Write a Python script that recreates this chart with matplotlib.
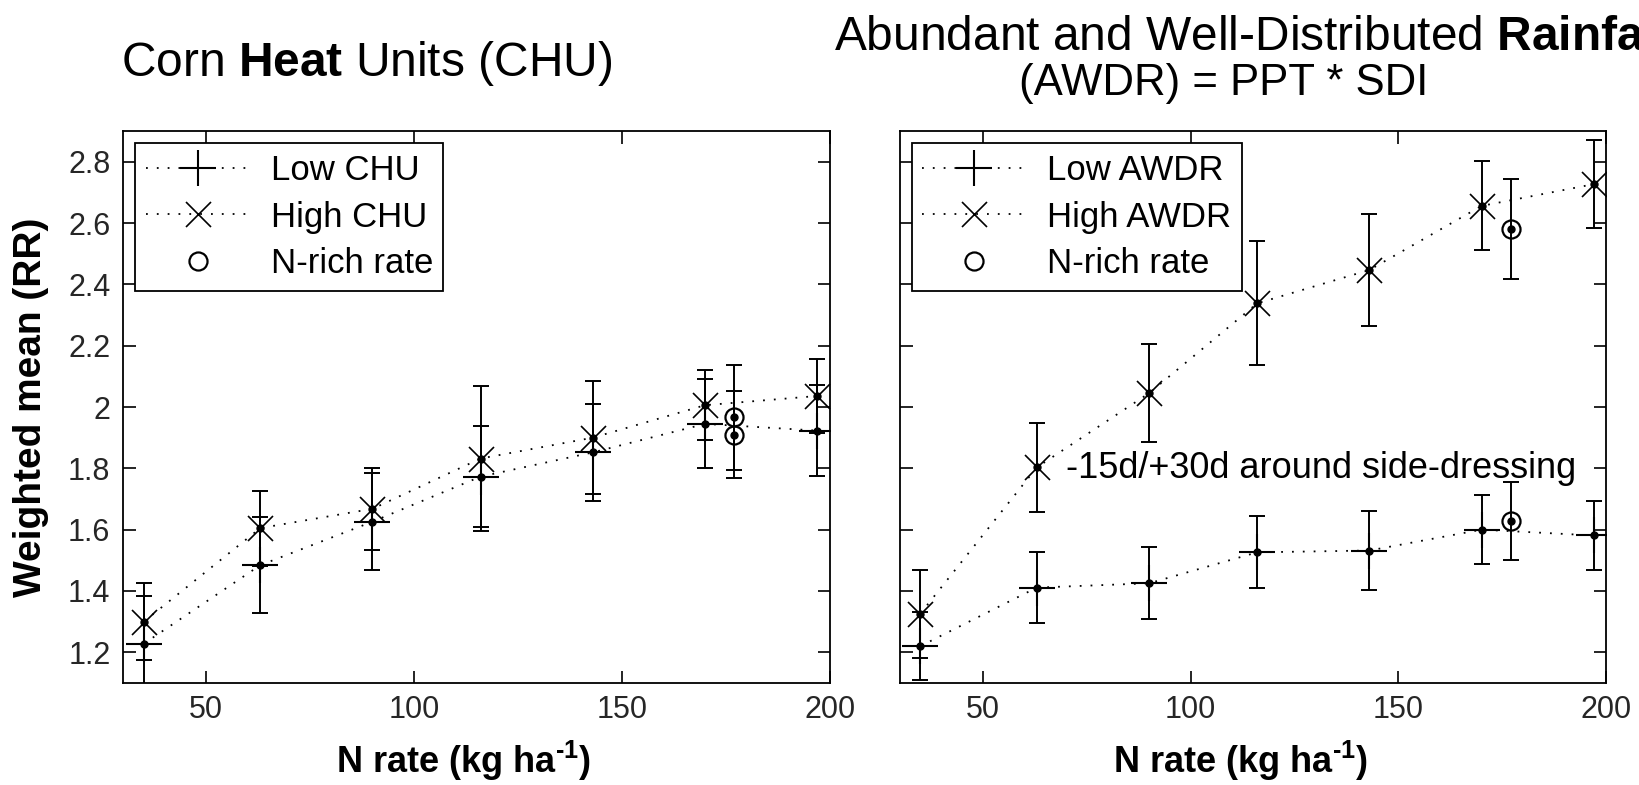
import numpy as np
import matplotlib
matplotlib.use("Agg")
import matplotlib.pyplot as plt
from matplotlib.ticker import FuncFormatter

###
# Data
###

# N rates shared by all treatment series
n_rate = [35, 63, 90, 116, 143, 170, 197]
n_rich_rate = 177

# Corn heat units panel
low_chu = [1.228, 1.484, 1.626, 1.773, 1.852, 1.945, 1.923]
low_chu_err = [0.156, 0.156, 0.158, 0.164, 0.157, 0.145, 0.148]
high_chu = [1.300, 1.605, 1.668, 1.832, 1.900, 2.006, 2.036]
high_chu_err = [0.125, 0.122, 0.134, 0.235, 0.185, 0.115, 0.121]
nrich_chu = [1.909, 1.966]
nrich_chu_err = [0.142, 0.171]

# AWDR panel
low_awdr = [1.220, 1.411, 1.425, 1.526, 1.532, 1.600, 1.581]
low_awdr_err = [0.111, 0.117, 0.117, 0.117, 0.130, 0.112, 0.113]
high_awdr = [1.326, 1.803, 2.045, 2.338, 2.447, 2.656, 2.727]
high_awdr_err = [0.143, 0.145, 0.160, 0.202, 0.183, 0.145, 0.143]
nrich_awdr = [1.627, 2.580]
nrich_awdr_err = [0.127, 0.163]

x_ticks = [50, 100, 150, 200]
y_ticks = [1.2, 1.4, 1.6, 1.8, 2.0, 2.2, 2.4, 2.6, 2.8]

###
# Style
###
plt.rcParams['font.family'] = ['Liberation Sans', 'DejaVu Sans']
plt.rcParams['mathtext.fontset'] = 'custom'
plt.rcParams['mathtext.rm'] = 'Liberation Sans'
plt.rcParams['mathtext.bf'] = 'Liberation Sans:bold'
plt.rcParams['mathtext.it'] = 'Liberation Sans:italic'

DOT = (0, (1, 5))   # sparse matlab-ish dotted line
LW = 1.4
CAP = 5.5


def draw_panel(ax, low, low_err, high, high_err, nrich, nrich_err, names):
    # error bars first
    ax.errorbar(n_rate, low, yerr=low_err, fmt='none', ecolor='k',
                elinewidth=LW, capsize=CAP, capthick=LW)
    ax.errorbar(n_rate, high, yerr=high_err, fmt='none', ecolor='k',
                elinewidth=LW, capsize=CAP, capthick=LW)
    ax.errorbar([n_rich_rate] * len(nrich), nrich, yerr=nrich_err, fmt='none',
                ecolor='k', elinewidth=LW, capsize=CAP, capthick=LW)

    # dotted series with big markers
    ax.plot(n_rate, low, color='k', ls=DOT, lw=1.3, marker='+', ms=26,
            mew=1.5, label=names[0])
    ax.plot(n_rate, high, color='k', ls=DOT, lw=1.3, marker='x', ms=18,
            mew=1.2, label=names[1])
    ax.plot([n_rich_rate] * len(nrich), nrich, ls='none', marker='o', ms=13,
            mfc='none', mec='k', mew=1.6, label='N-rich rate')

    # small centre dots
    ax.plot(n_rate, low, 'ko', ms=5)
    ax.plot(n_rate, high, 'ko', ms=5)
    ax.plot([n_rich_rate] * len(nrich), nrich, 'ko', ms=5)

    ax.set_xlim(30, 200)
    ax.set_ylim(1.1, 2.9)
    ax.set_xticks(x_ticks)
    ax.set_yticks(y_ticks)
    ax.xaxis.set_major_formatter(FuncFormatter(lambda v, p: '%g' % v))
    ax.yaxis.set_major_formatter(FuncFormatter(lambda v, p: '%g' % round(v, 1)))
    ax.tick_params(direction='in', length=9, width=1.2, top=True, right=True,
                   labelsize=22, labelcolor='#262626')
    ax.tick_params(axis='x', pad=9)
    ax.tick_params(axis='y', pad=9)
    for s in ax.spines.values():
        s.set_linewidth(1.3)

    leg = ax.legend(loc='upper left', fontsize=25, handlelength=3.0,
                    handletextpad=0.6, labelspacing=0.4, borderaxespad=0.35,
                    borderpad=0.3, fancybox=False, framealpha=1,
                    edgecolor='k')
    leg.get_frame().set_linewidth(1.3)

    ax.text(0.482, -0.142, 'N rate (kg ha$^{\\mathbf{\u20101}}$)',
            transform=ax.transAxes, ha='center', va='center', fontsize=26,
            fontweight='bold')


fig = plt.figure(figsize=(16.4, 7.85), dpi=100)
ax1 = fig.add_axes([0.075, 0.130, 0.431, 0.703])
ax2 = fig.add_axes([0.5485, 0.130, 0.431, 0.703])

draw_panel(ax1, low_chu, low_chu_err, high_chu, high_chu_err, nrich_chu,
           nrich_chu_err, ['Low CHU', 'High CHU'])
draw_panel(ax2, low_awdr, low_awdr_err, high_awdr, high_awdr_err, nrich_awdr,
           nrich_awdr_err, ['Low AWDR', 'High AWDR'])
ax2.tick_params(axis='y', labelleft=False)

fig.text(0.019, 0.4815, 'Weighted mean (RR)', rotation=90, ha='center',
         va='center', fontsize=28, fontweight='bold')

ax2.text(70, 1.8, '-15d/+30d around side-dressing', fontsize=26,
         ha='left', va='center')

# titles
fig.text(121 / 1640, 1 - 63 / 785, r'Corn $\mathbf{Heat}$ Units (CHU)',
         fontsize=34.5, ha='left', va='center')
fig.text(834 / 1640, 1 - 37 / 785,
         r'Abundant and Well-Distributed $\mathbf{Rainfall}$',
         fontsize=34.5, ha='left', va='center')
fig.text(1224 / 1640, 1 - 84 / 785, '(AWDR) = PPT * SDI',
         fontsize=31.5, ha='center', va='center')

fig.savefig('out.png', dpi=100)
